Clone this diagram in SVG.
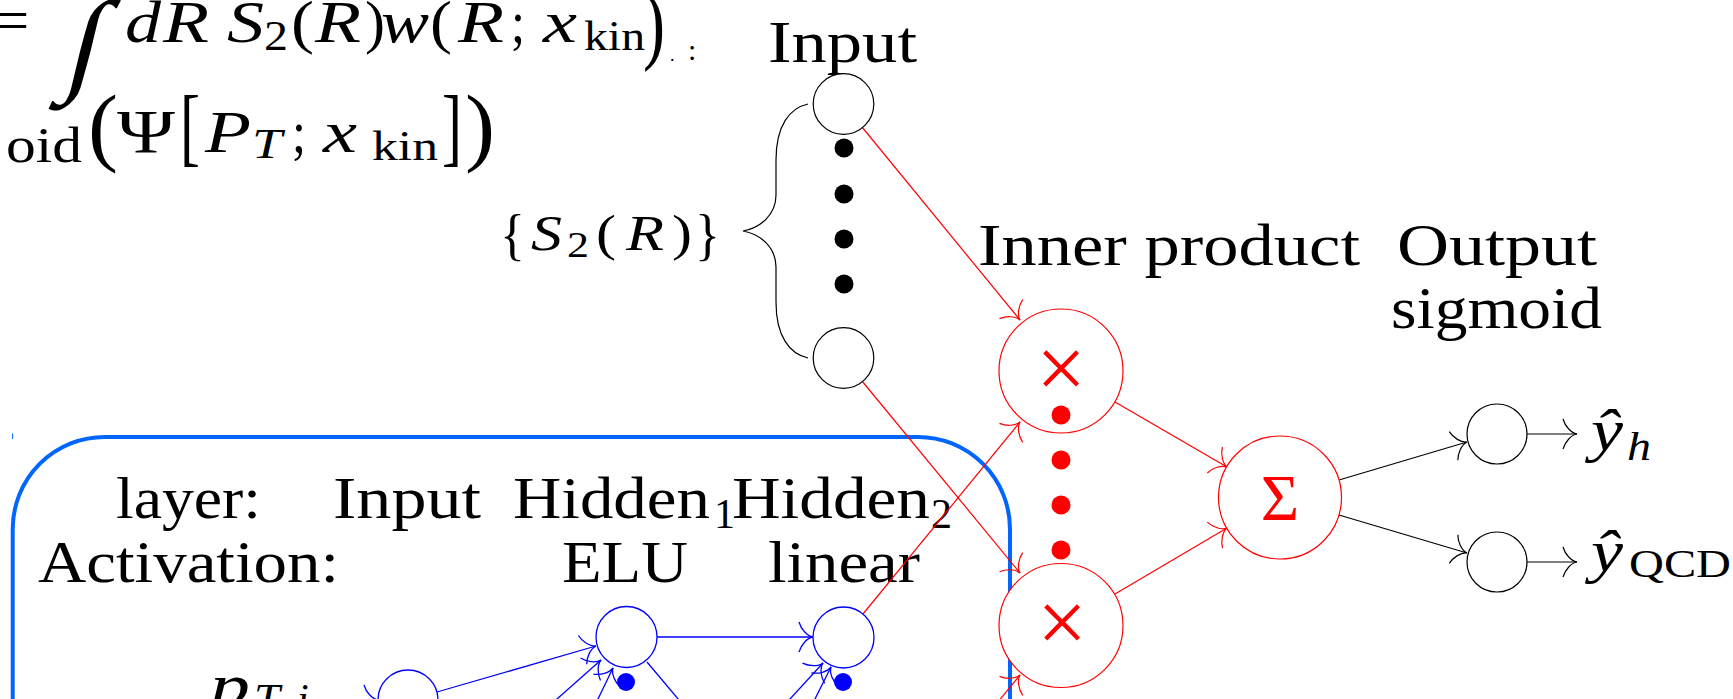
<svg xmlns="http://www.w3.org/2000/svg" width="1733" height="699" viewBox="0 0 1733 699">
<style>
text{font-family:"Liberation Serif","Times New Roman",serif;fill:#000}
.it{font-style:italic}
.t60{font-size:60px}
.t42{font-size:42px}
.t50{font-size:50px}
.big{font-size:86px}
.kc{fill:#fff;stroke:#000;stroke-width:1.2}
.rc{fill:#fff;stroke:#ff0000;stroke-width:1.2}
.bc{fill:#fff;stroke:#0000ff;stroke-width:1.3}
.kl{stroke:#000;stroke-width:1.2;fill:none}
.rl{stroke:#ff0000;stroke-width:1.2;fill:none}
.bl{stroke:#0000ff;stroke-width:1.3;fill:none}
.red{fill:#ff0000}
</style>
<defs>
<marker id="aK" markerUnits="userSpaceOnUse" orient="auto" refX="0" refY="0" markerWidth="40" markerHeight="40" viewBox="-20 -20 40 40" overflow="visible"><path d="M-14,-15 C-12,-8 -6,-1 0,0 C-6,1 -12,8 -14,15" fill="none" stroke="#000" stroke-width="1.2"/></marker>
<marker id="aR" markerUnits="userSpaceOnUse" orient="auto" refX="0" refY="0" markerWidth="40" markerHeight="40" viewBox="-20 -20 40 40" overflow="visible"><path d="M-14,-15 C-12,-8 -6,-1 0,0 C-6,1 -12,8 -14,15" fill="none" stroke="#ff0000" stroke-width="1.2"/></marker>
<marker id="aB" markerUnits="userSpaceOnUse" orient="auto" refX="0" refY="0" markerWidth="40" markerHeight="40" viewBox="-20 -20 40 40" overflow="visible"><path d="M-14,-15 C-12,-8 -6,-1 0,0 C-6,1 -12,8 -14,15" fill="none" stroke="#0000ff" stroke-width="1.3"/></marker>
</defs>

<!-- formula -->
<g id="formula">
<text class="t60" x="-3" y="40" textLength="32" lengthAdjust="spacingAndGlyphs">=</text>
<text x="0" y="0" font-size="60" transform="translate(62,80) skewX(-14) scale(2,1.9)">∫</text>
<text class="t60 it" x="125" y="42" textLength="36" lengthAdjust="spacingAndGlyphs">d</text>
<text class="t60 it" x="163" y="42" textLength="46" lengthAdjust="spacingAndGlyphs">R</text>
<text class="t60 it" x="227" y="42" textLength="37" lengthAdjust="spacingAndGlyphs">S</text>
<text class="t42" x="264" y="50" textLength="24" lengthAdjust="spacingAndGlyphs">2</text>
<text class="t60" x="291" y="42" textLength="23" lengthAdjust="spacingAndGlyphs">(</text>
<text class="t60 it" x="315" y="42" textLength="46" lengthAdjust="spacingAndGlyphs">R</text>
<text class="t60" x="365" y="42" textLength="20" lengthAdjust="spacingAndGlyphs">)</text>
<text class="t60 it" x="381" y="42" textLength="48" lengthAdjust="spacingAndGlyphs">w</text>
<text class="t60" x="430" y="42" textLength="22" lengthAdjust="spacingAndGlyphs">(</text>
<text class="t60 it" x="458" y="42" textLength="46" lengthAdjust="spacingAndGlyphs">R</text>
<text class="t60" x="511" y="42" textLength="14" lengthAdjust="spacingAndGlyphs">;</text>
<text class="t60 it" x="543" y="42" textLength="34" lengthAdjust="spacingAndGlyphs">x</text>
<text class="t42" x="584" y="50" textLength="61" lengthAdjust="spacingAndGlyphs">kin</text>
<text x="643" y="53" font-size="88" textLength="22" lengthAdjust="spacingAndGlyphs">)</text>
<text x="670" y="61" font-size="18">.</text>
<text x="688" y="60" font-size="30">:</text>
<text class="t50" x="6" y="162" textLength="76" lengthAdjust="spacingAndGlyphs">oid</text>
<text class="big" x="88" y="155" textLength="30" lengthAdjust="spacingAndGlyphs">(</text>
<text x="117" y="152" font-size="62" textLength="58" lengthAdjust="spacingAndGlyphs">Ψ</text>
<text class="big" x="180" y="155" textLength="20" lengthAdjust="spacingAndGlyphs">[</text>
<text class="t60 it" x="205" y="152" textLength="46" lengthAdjust="spacingAndGlyphs">P</text>
<text class="t42 it" x="252" y="158" textLength="30" lengthAdjust="spacingAndGlyphs">T</text>
<text class="t60" x="292" y="152" textLength="14" lengthAdjust="spacingAndGlyphs">;</text>
<text class="t60 it" x="323" y="152" textLength="34" lengthAdjust="spacingAndGlyphs">x</text>
<text class="t42" x="372" y="160" textLength="66" lengthAdjust="spacingAndGlyphs">kin</text>
<text class="big" x="442" y="155" textLength="20" lengthAdjust="spacingAndGlyphs">]</text>
<text class="big" x="465" y="155" textLength="30" lengthAdjust="spacingAndGlyphs">)</text>
</g>

<!-- labels -->
<g id="labels">
<text class="t60" x="768" y="62" textLength="149" lengthAdjust="spacingAndGlyphs">Input</text>
<text class="t60" x="978" y="265" textLength="382" lengthAdjust="spacingAndGlyphs">Inner product</text>
<text class="t60" x="1397" y="265" textLength="200" lengthAdjust="spacingAndGlyphs">Output</text>
<text class="t60" x="1391" y="328" textLength="211" lengthAdjust="spacingAndGlyphs">sigmoid</text>
<g id="S2label">
<text x="500" y="254" font-size="58" textLength="25" lengthAdjust="spacingAndGlyphs">{</text>
<text class="t50 it" x="531" y="250" textLength="31" lengthAdjust="spacingAndGlyphs">S</text>
<text x="567" y="257" font-size="36" textLength="22" lengthAdjust="spacingAndGlyphs">2</text>
<text class="t50" x="596" y="250" textLength="20" lengthAdjust="spacingAndGlyphs">(</text>
<text class="t50 it" x="626" y="250" textLength="38" lengthAdjust="spacingAndGlyphs">R</text>
<text class="t50" x="672" y="250" textLength="20" lengthAdjust="spacingAndGlyphs">)</text>
<text x="695" y="254" font-size="58" textLength="25" lengthAdjust="spacingAndGlyphs">}</text>
</g>
<path class="kl" d="M808,104 C790,108 776,125 776,160 L776,195 C776,215 760,228 743,231 C760,234 776,247 776,267 L776,302 C776,337 790,354 808,358"/>
</g>

<!-- blue box -->
<g id="box">
<path d="M12.7,800 L12.7,529 A92,92 0 0 1 104.7,437 L918,437 A92,92 0 0 1 1010,529 L1010,800" fill="none" stroke="#0066ff" stroke-width="4"/>
<line x1="12.6" y1="433.5" x2="12.6" y2="439" stroke="#0066ff" stroke-width="1"/>
<text class="t60" x="116" y="518" textLength="145" lengthAdjust="spacingAndGlyphs">layer:</text>
<text class="t60" x="333" y="518" textLength="148" lengthAdjust="spacingAndGlyphs">Input</text>
<text class="t60" x="513" y="518" textLength="197" lengthAdjust="spacingAndGlyphs">Hidden</text>
<text class="t42" x="714" y="528">1</text>
<text class="t60" x="732" y="518" textLength="198" lengthAdjust="spacingAndGlyphs">Hidden</text>
<text class="t42" x="931" y="528">2</text>
<text class="t60" x="38" y="582" textLength="301" lengthAdjust="spacingAndGlyphs">Activation:</text>
<text class="t60" x="562" y="582" textLength="126" lengthAdjust="spacingAndGlyphs">ELU</text>
<text class="t60" x="768" y="582" textLength="152" lengthAdjust="spacingAndGlyphs">linear</text>
<text class="t60 it" x="210" y="705" textLength="40" lengthAdjust="spacingAndGlyphs">p</text>
<text class="t42 it" x="254" y="713" textLength="34" lengthAdjust="spacingAndGlyphs">T,</text>
<text class="t42 it" x="297" y="713">i</text>
</g>

<!-- connectors -->
<g id="connectors">
<line class="kl" x1="1339" y1="480" x2="1467" y2="442" marker-end="url(#aK)"/>
<line class="kl" x1="1339" y1="515" x2="1467" y2="553" marker-end="url(#aK)"/>
<line class="kl" x1="1527" y1="434" x2="1577" y2="434" marker-end="url(#aK)"/>
<line class="kl" x1="1527" y1="562" x2="1577" y2="562" marker-end="url(#aK)"/>
<line class="rl" x1="862" y1="127" x2="1020" y2="320" marker-end="url(#aR)"/>
<line class="rl" x1="862" y1="381" x2="1020" y2="573" marker-end="url(#aR)"/>
<line class="rl" x1="863" y1="614" x2="1020" y2="422" marker-end="url(#aR)"/>
<line class="rl" x1="957" y1="752" x2="1020" y2="675" marker-end="url(#aR)"/>
<line class="rl" x1="1115" y1="402" x2="1227" y2="467" marker-end="url(#aR)"/>
<line class="rl" x1="1115" y1="594" x2="1227" y2="528" marker-end="url(#aR)"/>
<line class="bl" x1="437" y1="692" x2="596" y2="646" marker-end="url(#aB)"/>
<line class="bl" x1="513" y1="738" x2="601" y2="660" marker-end="url(#aB)"/>
<line class="bl" x1="583" y1="730" x2="613" y2="668" marker-end="url(#aB)"/>
<line class="bl" x1="647" y1="662" x2="700" y2="725"/>
<line class="bl" x1="657" y1="637" x2="813" y2="637" marker-end="url(#aB)"/>
<line class="bl" x1="757" y1="735" x2="823" y2="663" marker-end="url(#aB)"/>
<line class="bl" x1="799" y1="731" x2="831" y2="667" marker-end="url(#aB)"/>
<line class="bl" x1="320" y1="700" x2="378" y2="700" marker-end="url(#aB)"/>
</g>

<!-- nodes -->
<g id="in-top"><circle class="kc" cx="843.5" cy="104" r="30.3"/></g>
<g id="in-dots" fill="#000"><circle cx="844" cy="148" r="9.5"/><circle cx="844" cy="194" r="9.5"/><circle cx="844" cy="239" r="9.5"/><circle cx="844" cy="284" r="9.5"/></g>
<g id="in-bot"><circle class="kc" cx="843.5" cy="358" r="30.3"/></g>
<g id="prod-top"><circle class="rc" cx="1061" cy="371" r="62"/><text class="red" x="1061" y="398" font-size="88" text-anchor="middle">×</text></g>
<g id="prod-dots" fill="#ff0000"><circle cx="1061" cy="415" r="9.5"/><circle cx="1061" cy="460" r="9.5"/><circle cx="1061" cy="505" r="9.5"/><circle cx="1061" cy="550" r="9.5"/></g>
<g id="prod-bot"><circle class="rc" cx="1061" cy="625.5" r="62"/><text class="red" x="1062" y="652" font-size="88" text-anchor="middle">×</text></g>
<g id="sum"><circle class="rc" cx="1280" cy="497.5" r="61.5"/><text class="red" x="1280" y="520" font-size="66" text-anchor="middle">Σ</text></g>
<g id="out-h"><circle class="kc" cx="1497" cy="434" r="30"/><text class="t60 it" x="1591" y="450" textLength="32" lengthAdjust="spacingAndGlyphs">ŷ</text><text class="it" x="1627" y="460" font-size="40" textLength="24" lengthAdjust="spacingAndGlyphs">h</text></g>
<g id="out-qcd"><circle class="kc" cx="1497" cy="562" r="30"/><text class="t60 it" x="1591" y="571" textLength="32" lengthAdjust="spacingAndGlyphs">ŷ</text><text x="1629" y="577" font-size="40" textLength="102" lengthAdjust="spacingAndGlyphs">QCD</text></g>
<g id="b-in"><circle class="bc" cx="408" cy="700" r="30"/></g>
<g id="b-h1"><circle class="bc" cx="626.5" cy="637" r="30.5"/><circle cx="626" cy="682" r="9" fill="#0000ff"/></g>
<g id="b-h2"><circle class="bc" cx="843.5" cy="637.5" r="30.5"/><circle cx="843" cy="682" r="9" fill="#0000ff"/></g>
</svg>
